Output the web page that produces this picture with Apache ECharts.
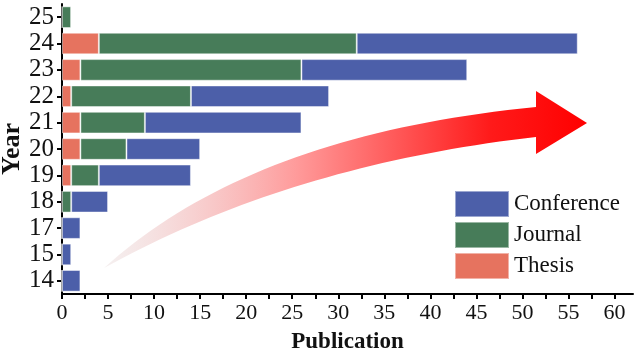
<!DOCTYPE html>
<html lang="en">
<head>
<meta charset="UTF-8">
<title>Publication by year</title>
<script src="https://cdn.jsdelivr.net/npm/echarts@6/dist/echarts.min.js"></script>
<style>
  html, body { margin: 0; padding: 0; background: #fff; }
  #main { width: 640px; height: 351px; }
</style>
</head>
<body>
<div id="main"></div>
<script>
  // years, bottom to top
  var years = ['14', '15', '17', '18', '19', '20', '21', '22', '23', '24', '25'];
  // publications per year, by type
  var thesis     = [0, 0, 0, 0, 1, 2, 2, 1, 2, 4, 0];
  var journal    = [0, 0, 0, 1, 3, 5, 7, 13, 24, 28, 1];
  var conference = [2, 1, 2, 4, 10, 8, 17, 15, 18, 24, 0];
  var xTicks = [0, 5, 10, 15, 20, 25, 30, 35, 40, 45, 50, 55, 60];

  var serif = '"Liberation Serif", "DejaVu Serif", serif';
  var minorTicks = [];
  for (var i = 0; i <= 120; i += 5) minorTicks.push(i / 2);

  // trend arrow outline (decoration): two quadratic edges + arrow head
  function quad(p0, p1, p2, n) {
    var pts = [];
    for (var k = 0; k <= n; k++) {
      var t = k / n, a = (1 - t) * (1 - t), b = 2 * t * (1 - t), c = t * t;
      pts.push([a * p0[0] + b * p1[0] + c * p2[0], a * p0[1] + b * p1[1] + c * p2[1]]);
    }
    return pts;
  }
  var arrowPts = quad([104, 268], [250, 135], [536, 107], 40)
    .concat([[536, 91], [587, 123], [536, 154]])
    .concat(quad([536, 137], [290, 165], [104, 268], 40));

  var myChart = echarts.init(document.getElementById('main'));

  var barStyle = function (c) {
    return { color: c, borderColor: 'rgba(255,255,255,0.45)', borderWidth: 1 };
  };

  var option = {
    backgroundColor: '#fff',
    animation: false,
    grid: { left: 62, right: 7, top: 4, bottom: 57, containLabel: false, outerBoundsMode: 'none' },
    legend: {
      orient: 'vertical',
      left: 449,
      top: 185,
      icon: 'rect',
      itemWidth: 54,
      itemHeight: 26,
      itemGap: 3,
      data: ['Conference', 'Journal', 'Thesis'],
      textStyle: { fontFamily: serif, fontSize: 23, color: '#111' }
    },
    xAxis: {
      type: 'value',
      min: 0,
      max: 62,
      interval: 5,
      name: 'Publication',
      nameLocation: 'middle',
      nameGap: 37,
      nameMoveOverlap: false,
      nameTextStyle: { fontFamily: serif, fontSize: 23, fontWeight: 'bold', color: '#111' },
      axisLine: { show: true, lineStyle: { color: '#000', width: 2 } },
      axisTick: { show: true, length: 5, customValues: minorTicks, lineStyle: { color: '#000', width: 2 } },
      axisLabel: { customValues: xTicks, fontFamily: serif, fontSize: 22, color: '#111', margin: 8 },
      splitLine: { show: false }
    },
    yAxis: {
      type: 'category',
      data: years,
      name: 'Year',
      nameLocation: 'middle',
      nameGap: 37,
      nameMoveOverlap: false,
      nameRotate: 90,
      nameTextStyle: { fontFamily: serif, fontSize: 26, fontWeight: 'bold', color: '#111' },
      axisLine: { show: true, lineStyle: { color: '#000', width: 2 } },
      axisTick: { show: true, alignWithLabel: true, interval: 0, length: 5, lineStyle: { color: '#000', width: 2 } },
      axisLabel: { interval: 0, fontFamily: serif, fontSize: 25, color: '#111', margin: 8 }
    },
    series: [
      { name: 'Thesis', type: 'bar', stack: 'pub', barCategoryGap: '18%', itemStyle: barStyle('#e6735f'), data: thesis },
      { name: 'Journal', type: 'bar', stack: 'pub', itemStyle: barStyle('#477c59'), data: journal },
      { name: 'Conference', type: 'bar', stack: 'pub', itemStyle: barStyle('#4c5fa9'), data: conference }
    ],
    graphic: [{
      type: 'polygon',
      z: 0,
      shape: { points: arrowPts },
      style: {
        fill: new echarts.graphic.LinearGradient(0, 0, 1, 0, [
          { offset: 0, color: 'rgba(235,225,225,0.5)' },
          { offset: 0.4, color: '#ff9a9a' },
          { offset: 0.8, color: '#ff1a1a' },
          { offset: 1, color: '#ff0000' }
        ])
      }
    }]
  };

  myChart.setOption(option);
</script>
</body>
</html>
